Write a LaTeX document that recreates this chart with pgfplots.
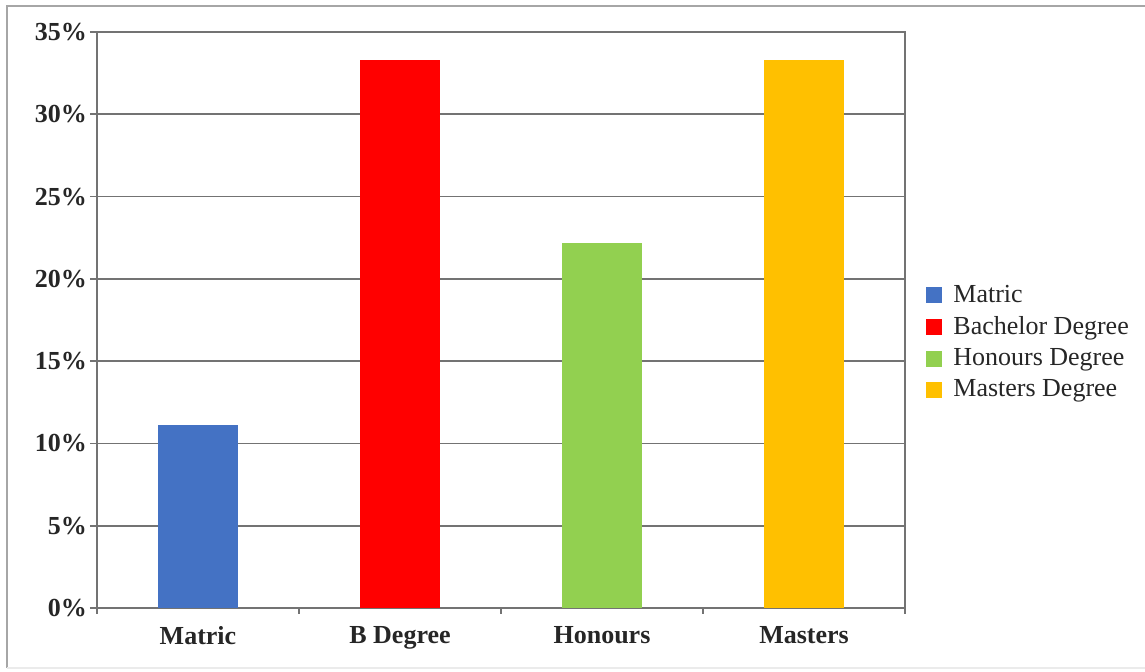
\documentclass[border=0pt]{standalone}
\usepackage{pgfplots}
\pgfplotsset{compat=1.18}
\usepackage{fontspec}
\setmainfont{Liberation Serif}
\definecolor{cblue}{HTML}{4472C4}
\definecolor{cred}{HTML}{FF0000}
\definecolor{cgreen}{HTML}{92D050}
\definecolor{cgold}{HTML}{FFC000}
\definecolor{gridc}{HTML}{737373}
\begin{document}
\begin{tikzpicture}
\path[use as bounding box] (0,0) rectangle (572.5pt,336pt);
\draw[black!35, line width=0.8pt] (3.5pt,2pt) -- (3.5pt,333pt) -- (572.5pt,333pt);
\draw[black!8, line width=0.8pt] (3.5pt,2pt) -- (572.5pt,2pt);
\begin{axis}[
  at={(48.5pt,32pt)}, anchor=south west,
  scale only axis, width=404pt, height=288pt,
  xmin=-0.5, xmax=3.5, ymin=0, ymax=35,
  ybar, bar width=40pt, bar shift=0pt,
  xtick={0,1,2,3},
  xticklabels={Matric, B Degree, Honours, Masters},
  minor xtick={-0.5,0.5,1.5,2.5,3.5},
  ytick={0,5,10,15,20,25,30,35},
  yticklabels={0\%,5\%,10\%,15\%,20\%,25\%,30\%,35\%},
  xtick pos=bottom, ytick pos=left,
  ymajorgrids,
  grid style={gridc, line width=0.8pt},
  axis line style={gridc, line width=0.8pt},
  tick style={gridc, line width=0.8pt},
  major x tick style={draw=none},
  tick align=outside,
  major tick length=3.5pt,
  minor tick length=3pt,
  yticklabel style={font=\bfseries\fontsize{13}{15}\selectfont, text=black!85, xshift=2pt},
  xticklabel style={font=\bfseries\fontsize{13}{15}\selectfont, text=black!85, yshift=-2pt},
  legend style={at={(1,0.461)}, anchor=west, xshift=10.5pt, draw=none, fill=none,
    inner sep=0pt, font=\fontsize{13}{15.5}\selectfont, row sep=1.6pt,
    text=black!85},
  legend cell align=left,
  sq/.style={legend image code/.code={\fill[##1] (0pt,-4pt) rectangle (8pt,4pt); \path (11.5pt,0pt);}},
]
\addplot[fill=cblue, draw=none, sq] coordinates {(0,11.1)};
\addplot[fill=cred, draw=none, sq] coordinates {(1,33.3)};
\addplot[fill=cgreen, draw=none, sq] coordinates {(2,22.2)};
\addplot[fill=cgold, draw=none, sq] coordinates {(3,33.3)};
\legend{Matric, Bachelor Degree, Honours Degree, Masters Degree}
\end{axis}
\end{tikzpicture}
\end{document}
